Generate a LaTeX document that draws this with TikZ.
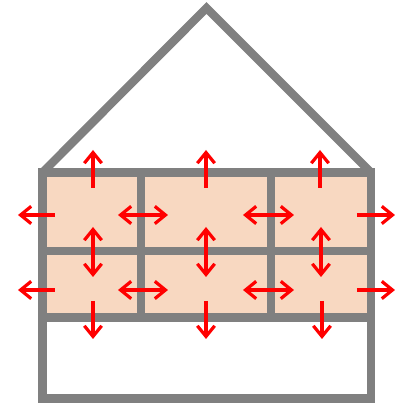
\documentclass[tikz,border=0pt]{standalone}
\usetikzlibrary{arrows.meta}
\definecolor{wallgray}{RGB}{128,128,128}
\definecolor{roomfill}{RGB}{248,216,193}

\begin{document}
\begin{tikzpicture}[x=0.75pt, y=-0.75pt,
    wall/.style={draw=wallgray, line width=6.3pt},
    flow/.style={draw=red, line width=2.4pt, >={Straight Barb[length=8pt,width=13pt]}}]

    \useasboundingbox (0,0) rectangle (412,403);

    % Define the corners of the house
    \coordinate (tl) at (42.5,172.5); % top left of the upper floor
    \coordinate (tr) at (371,172.5);
    \coordinate (apex) at (206.5,8); % top of the roof
    \coordinate (ml) at (42.5,251); % floor between the two upper storeys
    \coordinate (mr) at (371,251);
    \coordinate (ll) at (42.5,317.5); % floor above the ground storey
    \coordinate (lr) at (371,317.5);
    \coordinate (bl) at (42.5,398.5);
    \coordinate (br) at (371,398.5);

    % Heated rooms
    \fill[roomfill] (tl) rectangle (lr);

    % Walls and roof
    \draw[wall] (tl) -- (apex) -- (tr);
    \draw[wall] (tl) rectangle (br);
    \draw[wall] (ml) -- (mr);
    \draw[wall] (ll) -- (lr);
    \draw[wall] (141,172.5) -- (141,317.5);
    \draw[wall] (271,172.5) -- (271,317.5);

    % Heat flows
    \foreach \x in {93,206,320}
        \draw[flow, ->] (\x,188) -- (\x,150); % up into the roof
    \foreach \x in {93,206,321}
        \draw[flow, <->] (\x,227) -- (\x,277); % between the storeys
    \foreach \x in {93,206,322}
        \draw[flow, ->] (\x,301) -- (\x,339); % down to the ground storey
    \foreach \y in {215,290} {
        \draw[flow, ->] (55,\y) -- (18,\y); % out through the left wall
        \draw[flow, <->] (118,\y) -- (168,\y);
        \draw[flow, <->] (243,\y) -- (294,\y);
        \draw[flow, ->] (357,\y) -- (395,\y); % out through the right wall
    }
\end{tikzpicture}
\end{document}
